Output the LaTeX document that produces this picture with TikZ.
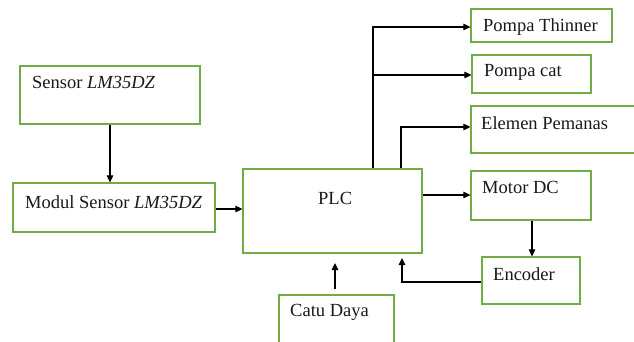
\documentclass[tikz,border=0pt]{standalone}
\usepackage{fontspec}
\setmainfont{Liberation Serif}
\usetikzlibrary{arrows.meta, positioning, calc}
\definecolor{boxgreen}{HTML}{70AD47}
\tikzset{
  arr/.style={-{Triangle[length=7pt, width=6.5pt]}, line width=1.1pt, black},
  blok/.style={rectangle, draw=boxgreen, line width=1.2pt, inner sep=0pt},
  lbl/.style={anchor=west, inner sep=0pt, font=\fontsize{18.5}{22}\selectfont, text=black!90},
}
\begin{document}
\begin{tikzpicture}[x=1pt, y=-1pt]
  \useasboundingbox (0,0) rectangle (634,342);
  \clip (0,0) rectangle (634,342);

  % Blocks
  \node[blok, minimum width=180pt, minimum height=58pt] (sensor) at (110,95) {};
  \node[blok, minimum width=202pt, minimum height=49pt] (modul) at (114,207.5) {};
  \node[blok, minimum width=179pt, minimum height=84pt] (plc) at (332.5,211) {};
  \node[blok, minimum width=141pt, minimum height=33pt] (thinner) at (541.5,25.5) {};
  \node[blok, minimum width=119pt, minimum height=38pt] (cat) at (531.5,74) {};
  \node[blok, minimum width=170pt, minimum height=47pt] (pemanas) at (556,129.5) {};
  \node[blok, minimum width=120pt, minimum height=49pt] (motor) at (531,195.5) {};
  \node[blok, minimum width=98pt, minimum height=47pt] (encoder) at (531,280.5) {};
  \node[blok, minimum width=115pt, minimum height=70pt] (catu) at (336.5,330) {};

  % Labels
  \node[lbl] (sensor-t) at (32,82) {Sensor \textit{LM35DZ}};
  \node[lbl] (modul-t) at (25,202) {Modul Sensor \textit{LM35DZ}};
  \node[lbl] (plc-t) at (318,198) {PLC};
  \node[lbl] (thinner-t) at (483,27) {Pompa Thinner};
  \node[lbl] (cat-t) at (484,72) {Pompa cat};
  \node[lbl] (pemanas-t) at (481,123) {Elemen Pemanas};
  \node[lbl] (motor-t) at (482,187) {Motor DC};
  \node[lbl] (encoder-t) at (493,274) {Encoder};
  \node[lbl] (catu-t) at (290,312) {Catu Daya};

  % Connections
  \draw[arr] (sensor.south) -- (sensor.south |- modul.north);
  \draw[arr] (modul.east |- 0,209) -- (plc.west |- 0,209);
  \draw[arr] (plc.north -| 373,0) -- (373,27) -- (thinner.west |- 0,27);
  \draw[arr] (373,75) -- (cat.west |- 0,75);
  \draw[arr] (plc.north -| 401,0) -- (401,127) -- (pemanas.west |- 0,127);
  \draw[arr] (plc.east |- 0,195) -- (motor.west |- 0,195);
  \draw[arr] (motor.south -| 532,0) -- (encoder.north -| 532,0);
  \draw[arr] (encoder.west |- 0,282) -- (402,282) -- (402,258);
  \draw[arr] (catu.north -| 335,0) ++(0,-5) -- (335,263);
\end{tikzpicture}
\end{document}
